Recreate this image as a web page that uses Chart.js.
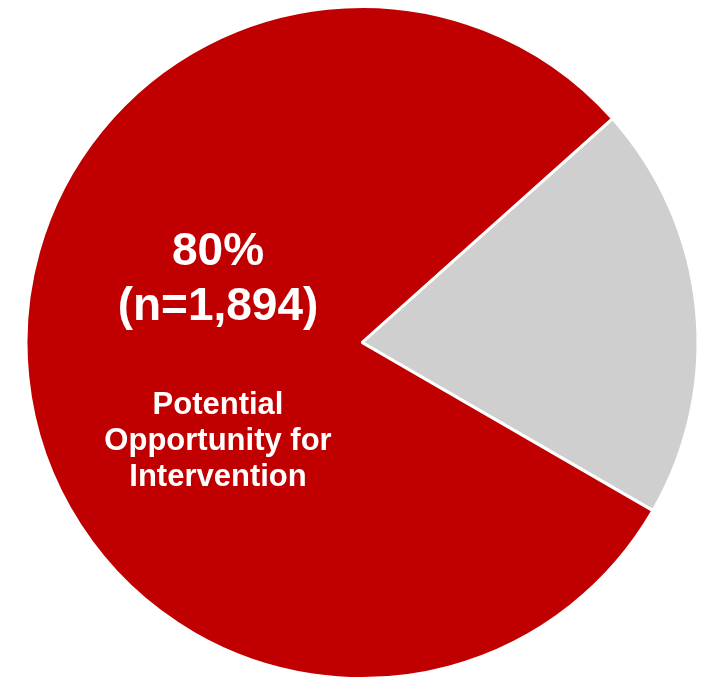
<!DOCTYPE html>
<html>
<head>
<meta charset="utf-8">
<style>
    html, body { margin: 0; padding: 0; background: #fff; }
    #wrap { width: 708px; height: 680px; position: relative; }
</style>
<script src="https://cdn.jsdelivr.net/npm/chart.js"></script>
</head>
<body>
<div id="wrap"><canvas id="pieChart"></canvas></div>
<script>
// Slice data (grey first so the red slice wraps around the left side)
const categories = ['Other', 'Potential Opportunity for Intervention'];
const counts = [472, 1894];
const sliceColors = ['#D0CFD0', '#C00000'];
const calloutLines = ['Potential', 'Opportunity for', 'Intervention'];

const FONT = '"Liberation Sans", Arial, Helvetica, sans-serif';

// White text block sitting on the red slice
const calloutPlugin = {
    id: 'callout',
    afterDraw(chart) {
        const ctx = chart.ctx;
        const total = counts.reduce((a, b) => a + b, 0);
        const n = counts[1];
        const pct = Math.round(n / total * 100) + '%';
        const nText = '(n=' + n.toLocaleString('en-US') + ')';
        const cx = 218;

        ctx.save();
        ctx.fillStyle = '#ffffff';
        ctx.textAlign = 'center';
        ctx.textBaseline = 'alphabetic';

        ctx.font = 'bold 46px ' + FONT;
        ctx.fillText(pct, cx, 265);
        ctx.fillText(nText, cx, 320);

        ctx.font = 'bold 31px ' + FONT;
        calloutLines.forEach((line, i) => {
            ctx.fillText(line, cx, 414 + i * 36);
        });
        ctx.restore();
    }
};

new Chart(document.getElementById('pieChart'), {
    type: 'pie',
    data: {
        labels: categories,
        datasets: [{
            data: counts,
            backgroundColor: sliceColors,
            borderColor: '#ffffff',
            borderWidth: 3
        }]
    },
    options: {
        responsive: true,
        maintainAspectRatio: false,
        animation: false,
        rotation: 48.2,
        layout: {
            padding: { left: 23, right: 7, top: 5, bottom: -3 }
        },
        plugins: {
            legend: { display: false },
            tooltip: { enabled: false }
        }
    },
    plugins: [calloutPlugin]
});
</script>
</body>
</html>
